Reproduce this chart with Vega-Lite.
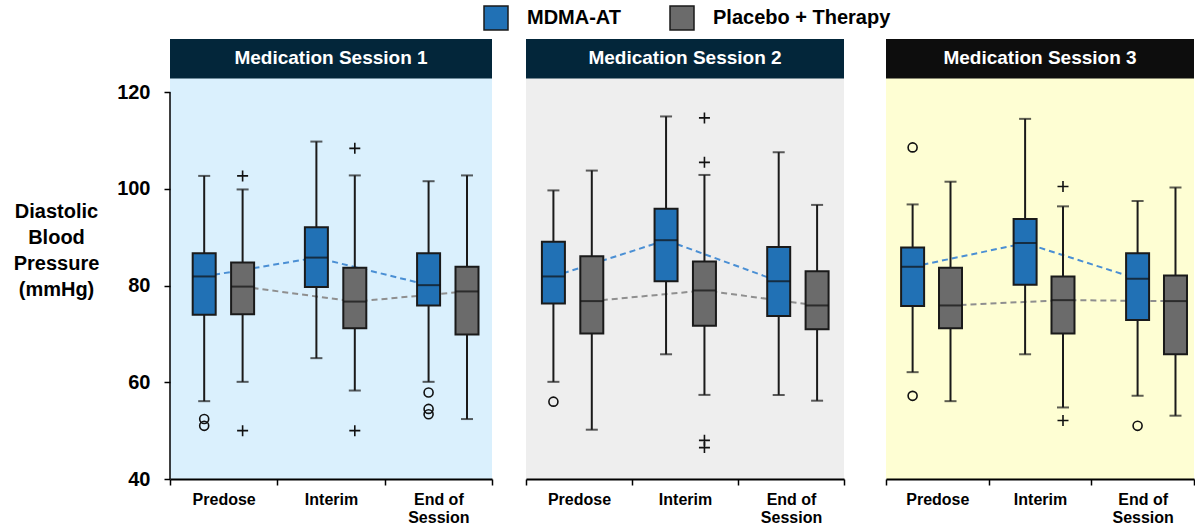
{
"$schema": "https://vega.github.io/schema/vega-lite/v6.json",
"padding": {"left": 13, "top": 5, "right": 0, "bottom": 0},
"background": "white",
"config": {"view": {"stroke": null}, "axis": {"grid": false}, "font": "Liberation Sans"},
"datasets": {
"boxes": [
{"session":1,"time":"Predose","group":"MDMA-AT","lower":56.1,"q1":74.0,"median":81.9,"q3":86.7,"upper":102.7},
{"session":1,"time":"Interim","group":"MDMA-AT","lower":65.0,"q1":79.7,"median":85.8,"q3":92.1,"upper":109.8},
{"session":1,"time":"End of Session","group":"MDMA-AT","lower":60.1,"q1":75.9,"median":80.1,"q3":86.7,"upper":101.6},
{"session":1,"time":"Predose","group":"Placebo + Therapy","lower":60.1,"q1":74.1,"median":79.8,"q3":84.8,"upper":99.9},
{"session":1,"time":"Interim","group":"Placebo + Therapy","lower":58.3,"q1":71.2,"median":76.7,"q3":83.7,"upper":102.8},
{"session":1,"time":"End of Session","group":"Placebo + Therapy","lower":52.4,"q1":69.9,"median":78.8,"q3":83.9,"upper":102.8},
{"session":2,"time":"Predose","group":"MDMA-AT","lower":60.1,"q1":76.3,"median":81.9,"q3":89.1,"upper":99.7},
{"session":2,"time":"Interim","group":"MDMA-AT","lower":65.8,"q1":80.9,"median":89.4,"q3":95.9,"upper":115.0},
{"session":2,"time":"End of Session","group":"MDMA-AT","lower":57.4,"q1":73.7,"median":80.9,"q3":88.0,"upper":107.6},
{"session":2,"time":"Predose","group":"Placebo + Therapy","lower":50.2,"q1":70.1,"median":76.8,"q3":86.1,"upper":103.8},
{"session":2,"time":"Interim","group":"Placebo + Therapy","lower":57.4,"q1":71.7,"median":79.0,"q3":85.0,"upper":102.9},
{"session":2,"time":"End of Session","group":"Placebo + Therapy","lower":56.2,"q1":71.0,"median":75.9,"q3":83.0,"upper":96.7},
{"session":3,"time":"Predose","group":"MDMA-AT","lower":62.1,"q1":75.8,"median":83.9,"q3":87.9,"upper":96.8},
{"session":3,"time":"Interim","group":"MDMA-AT","lower":65.8,"q1":80.2,"median":88.8,"q3":93.8,"upper":114.5},
{"session":3,"time":"End of Session","group":"MDMA-AT","lower":57.2,"q1":72.9,"median":81.4,"q3":86.7,"upper":97.5},
{"session":3,"time":"Predose","group":"Placebo + Therapy","lower":56.1,"q1":71.2,"median":75.9,"q3":83.7,"upper":101.5},
{"session":3,"time":"Interim","group":"Placebo + Therapy","lower":54.8,"q1":70.1,"median":77.0,"q3":81.9,"upper":96.4},
{"session":3,"time":"End of Session","group":"Placebo + Therapy","lower":53.1,"q1":65.8,"median":76.8,"q3":82.1,"upper":100.3}
],
"outliers": [
{"session":1,"time":"Predose","group":"MDMA-AT","value":52.4,"kind":"circle"},
{"session":1,"time":"Predose","group":"MDMA-AT","value":51.0,"kind":"circle"},
{"session":1,"time":"Predose","group":"Placebo + Therapy","value":102.7,"kind":"plus"},
{"session":1,"time":"Predose","group":"Placebo + Therapy","value":50.0,"kind":"plus"},
{"session":1,"time":"Interim","group":"Placebo + Therapy","value":108.4,"kind":"plus"},
{"session":1,"time":"Interim","group":"Placebo + Therapy","value":50.0,"kind":"plus"},
{"session":1,"time":"End of Session","group":"MDMA-AT","value":57.9,"kind":"circle"},
{"session":1,"time":"End of Session","group":"MDMA-AT","value":54.5,"kind":"circle"},
{"session":1,"time":"End of Session","group":"MDMA-AT","value":53.4,"kind":"circle"},
{"session":2,"time":"Predose","group":"MDMA-AT","value":56.0,"kind":"circle"},
{"session":2,"time":"Interim","group":"Placebo + Therapy","value":114.7,"kind":"plus"},
{"session":2,"time":"Interim","group":"Placebo + Therapy","value":105.5,"kind":"plus"},
{"session":2,"time":"Interim","group":"Placebo + Therapy","value":48.0,"kind":"plus"},
{"session":2,"time":"Interim","group":"Placebo + Therapy","value":46.5,"kind":"plus"},
{"session":3,"time":"Predose","group":"MDMA-AT","value":108.6,"kind":"circle"},
{"session":3,"time":"Predose","group":"MDMA-AT","value":57.2,"kind":"circle"},
{"session":3,"time":"Interim","group":"Placebo + Therapy","value":100.5,"kind":"plus"},
{"session":3,"time":"Interim","group":"Placebo + Therapy","value":52.1,"kind":"plus"},
{"session":3,"time":"End of Session","group":"MDMA-AT","value":51.0,"kind":"circle"}
]
},
"spacing": 40,
"resolve": {"scale": {"xOffset": "independent"}},
"hconcat": [
{"spacing": 32, "resolve": {"scale": {"xOffset": "independent"}},
 "hconcat": [
  {"width": 322, "height": 440, "view": {"fill": "#daf0fd", "stroke": null},
   "data": {"name": "boxes"},
   "transform": [{"filter": "datum.session == 1"}],
   "resolve": {"scale": {"x": "independent", "xOffset": "independent"}, "axis": {"x": "independent"}},
   "layer": [
    {"encoding": {
      "x": {"field": "time", "type": "nominal", "sort": ["Predose", "Interim", "End of Session"], "scale": {"type": "band", "paddingInner": 0.13, "paddingOuter": 0, "round": false}, "axis": null},
      "xOffset": {"field": "group", "type": "nominal", "sort": ["MDMA-AT", "Placebo + Therapy"], "scale": {"type": "band", "paddingInner": 0.401, "paddingOuter": 0.471, "align": 0.627, "round": false}}
     },
     "layer": [
      {"mark": {"type": "line", "strokeDash": [6, 4], "strokeWidth": 2}, "encoding": {"y": {"field": "median", "type": "quantitative", "scale": {"domain": [40, 131.02], "nice": false, "zero": false}, "axis": {"values": [40, 60, 80, 100, 120], "domain": false, "title": ["Diastolic", "Blood", "Pressure", "(mmHg)"], "titleAngle": 0, "titleAlign": "center", "titleBaseline": "middle", "titleX": -114, "titleY": 172, "titleFontSize": 20, "titleFont": "Liberation Sans", "titleFontWeight": "bold", "titleLineHeight": 26, "titleColor": "#000000", "labelFontSize": 20, "labelFont": "Liberation Sans", "labelFontWeight": "bold", "labelColor": "#000000", "labelPadding": 14, "tickSize": 6, "tickColor": "#000000", "tickWidth": 1.5, "grid": false}}, "stroke": {"field": "group", "type": "nominal", "scale": {"domain": ["Placebo + Therapy", "MDMA-AT"], "range": ["#8f8f8f", "#4a8fd4"]}, "legend": null}, "order": {"value": null}}},
      {"mark": {"type": "rule", "color": "#1a1a1a", "strokeWidth": 2}, "encoding": {"y": {"field": "lower", "type": "quantitative"}, "y2": {"field": "upper"}}},
      {"mark": {"type": "tick", "orient": "horizontal", "size": 12, "thickness": 2, "color": "#1a1a1a"}, "encoding": {"y": {"field": "lower", "type": "quantitative"}}},
      {"mark": {"type": "tick", "orient": "horizontal", "size": 12, "thickness": 2, "color": "#1a1a1a"}, "encoding": {"y": {"field": "upper", "type": "quantitative"}}},
      {"mark": {"type": "bar", "stroke": "#1a1a1a", "strokeWidth": 2}, "encoding": {"y": {"field": "q1", "type": "quantitative"}, "y2": {"field": "q3"}, "fill": {"field": "group", "type": "nominal", "sort": ["MDMA-AT", "Placebo + Therapy"], "scale": {"domain": ["MDMA-AT", "Placebo + Therapy"], "range": ["#2171b5", "#6b6b6b"]}, "legend": {"orient": "none", "legendX": 313, "legendY": -34, "direction": "horizontal", "title": null, "symbolType": "square", "symbolSize": 576, "symbolStrokeColor": "#222222", "symbolStrokeWidth": 1.5, "symbolOpacity": 1, "labelFontSize": 20, "labelFont": "Liberation Sans", "labelFontWeight": "bold", "labelColor": "#000000", "labelOffset": 18, "labelLimit": 400, "columnPadding": 45, "padding": 0}}}},
      {"mark": {"type": "tick", "orient": "horizontal", "size": 23, "thickness": 2, "color": "#111111"}, "encoding": {"y": {"field": "median", "type": "quantitative"}}},
      {"data": {"name": "outliers"}, "transform": [{"filter": "datum.session == 1"}],
       "mark": {"type": "point", "filled": false, "stroke": "#111111", "strokeWidth": 1.6, "size": 121, "opacity": 1},
       "encoding": {"y": {"field": "value", "type": "quantitative"}, "shape": {"field": "kind", "type": "nominal", "scale": {"domain": ["circle", "plus"], "range": ["M0.82,0A0.82,0.82,0,1,1,-0.82,0A0.82,0.82,0,1,1,0.82,0Z", "M-1,0H1M0,-1V1"]}, "legend": null}}}
     ]},
    {"encoding": {"x": {"field": "time", "type": "nominal", "sort": ["Predose", "Interim", "End of Session"], "scale": {"type": "band", "paddingInner": 0, "paddingOuter": 0}, "axis": {"title": null, "labelAngle": 0, "tickBand": "extent", "labelFontSize": 16, "labelFont": "Liberation Sans", "labelFontWeight": "bold", "labelColor": "#000000", "labelPadding": 6, "labelLineHeight": 18, "labelExpr": "datum.value == 'End of Session' ? ['End of', 'Session'] : datum.value", "tickSize": 6, "tickColor": "#000000", "tickWidth": 1.5, "domainColor": "#000000", "domainWidth": 2}}},
     "layer": [
      {"mark": {"type": "tick", "opacity": 0}},
      {"data": {"values": [{"axis": "y"}]}, "mark": {"type": "rule", "color": "#000000", "strokeWidth": 1.5},
       "encoding": {"x": {"datum": "Predose", "type": "nominal", "bandPosition": 0}, "y": {"datum": 40, "type": "quantitative"}, "y2": {"datum": 120}}}
     ]},
    {"data": {"values": [{"label": "Medication Session 1"}]},
     "mark": {"type": "rect", "color": "#03263a"},
     "encoding": {"y": {"datum": 122.85, "type": "quantitative"}, "y2": {"datum": 131.02}}},
    {"data": {"values": [{"label": "Medication Session 1"}]},
     "mark": {"type": "text", "color": "#ffffff", "font": "Liberation Sans", "fontWeight": "bold", "fontSize": 19, "baseline": "middle"},
     "encoding": {"y": {"datum": 126.99, "type": "quantitative"}, "text": {"field": "label"}}}
   ]},
  {"width": 318, "height": 440, "view": {"fill": "#eeeeee", "stroke": null},
   "data": {"name": "boxes"},
   "transform": [{"filter": "datum.session == 2"}],
   "resolve": {"scale": {"x": "independent", "xOffset": "independent"}, "axis": {"x": "independent"}},
   "layer": [
    {"encoding": {
      "x": {"field": "time", "type": "nominal", "sort": ["Predose", "Interim", "End of Session"], "scale": {"type": "band", "paddingInner": 0.177, "paddingOuter": 0, "round": false}, "axis": null},
      "xOffset": {"field": "group", "type": "nominal", "sort": ["MDMA-AT", "Placebo + Therapy"], "scale": {"type": "band", "paddingInner": 0.401, "paddingOuter": 0.408, "align": 0.508, "round": false}}
     },
     "layer": [
      {"mark": {"type": "line", "strokeDash": [6, 4], "strokeWidth": 2}, "encoding": {"y": {"field": "median", "type": "quantitative", "scale": {"domain": [40, 131.02], "nice": false, "zero": false}, "axis": null}, "stroke": {"field": "group", "type": "nominal", "scale": {"domain": ["Placebo + Therapy", "MDMA-AT"], "range": ["#8f8f8f", "#4a8fd4"]}, "legend": null}, "order": {"value": null}}},
      {"mark": {"type": "rule", "color": "#1a1a1a", "strokeWidth": 2}, "encoding": {"y": {"field": "lower", "type": "quantitative", "axis": null}, "y2": {"field": "upper"}}},
      {"mark": {"type": "tick", "orient": "horizontal", "size": 12, "thickness": 2, "color": "#1a1a1a"}, "encoding": {"y": {"field": "lower", "type": "quantitative", "axis": null}}},
      {"mark": {"type": "tick", "orient": "horizontal", "size": 12, "thickness": 2, "color": "#1a1a1a"}, "encoding": {"y": {"field": "upper", "type": "quantitative", "axis": null}}},
      {"mark": {"type": "bar", "stroke": "#1a1a1a", "strokeWidth": 2}, "encoding": {"y": {"field": "q1", "type": "quantitative", "axis": null}, "y2": {"field": "q3"}, "fill": {"field": "group", "type": "nominal", "sort": ["MDMA-AT", "Placebo + Therapy"], "scale": {"domain": ["MDMA-AT", "Placebo + Therapy"], "range": ["#2171b5", "#6b6b6b"]}}}},
      {"mark": {"type": "tick", "orient": "horizontal", "size": 23, "thickness": 2, "color": "#111111"}, "encoding": {"y": {"field": "median", "type": "quantitative", "axis": null}}},
      {"data": {"name": "outliers"}, "transform": [{"filter": "datum.session == 2"}],
       "mark": {"type": "point", "filled": false, "stroke": "#111111", "strokeWidth": 1.6, "size": 121, "opacity": 1},
       "encoding": {"y": {"field": "value", "type": "quantitative", "axis": null}, "shape": {"field": "kind", "type": "nominal", "scale": {"domain": ["circle", "plus"], "range": ["M0.82,0A0.82,0.82,0,1,1,-0.82,0A0.82,0.82,0,1,1,0.82,0Z", "M-1,0H1M0,-1V1"]}, "legend": null}}}
     ]},
    {"mark": {"type": "tick", "opacity": 0},
     "encoding": {"x": {"field": "time", "type": "nominal", "sort": ["Predose", "Interim", "End of Session"], "scale": {"type": "band", "paddingInner": 0, "paddingOuter": 0}, "axis": {"title": null, "labelAngle": 0, "tickBand": "extent", "labelFontSize": 16, "labelFont": "Liberation Sans", "labelFontWeight": "bold", "labelColor": "#000000", "labelPadding": 6, "labelLineHeight": 18, "labelExpr": "datum.value == 'End of Session' ? ['End of', 'Session'] : datum.value", "tickSize": 6, "tickColor": "#000000", "tickWidth": 1.5, "domainColor": "#000000", "domainWidth": 2}}}},
    {"data": {"values": [{"label": "Medication Session 2"}]},
     "mark": {"type": "rect", "color": "#03263a"},
     "encoding": {"y": {"datum": 122.85, "type": "quantitative", "axis": null}, "y2": {"datum": 131.02}}},
    {"data": {"values": [{"label": "Medication Session 2"}]},
     "mark": {"type": "text", "color": "#ffffff", "font": "Liberation Sans", "fontWeight": "bold", "fontSize": 19, "baseline": "middle"},
     "encoding": {"y": {"datum": 126.99, "type": "quantitative", "axis": null}, "text": {"field": "label"}}}
   ]}
 ]},
{"width": 308, "height": 440, "view": {"fill": "#fefed3", "stroke": null},
 "data": {"name": "boxes"},
 "transform": [{"filter": "datum.session == 3"}],
 "resolve": {"scale": {"x": "independent", "xOffset": "independent"}, "axis": {"x": "independent"}},
 "layer": [
  {"encoding": {
    "x": {"field": "time", "type": "nominal", "sort": ["Predose", "Interim", "End of Session"], "scale": {"type": "band", "paddingInner": 0.262, "paddingOuter": 0, "round": false}, "axis": null},
    "xOffset": {"field": "group", "type": "nominal", "sort": ["MDMA-AT", "Placebo + Therapy"], "scale": {"type": "band", "paddingInner": 0.393, "paddingOuter": 0.292, "align": 0.683, "round": false}}
   },
   "layer": [
    {"mark": {"type": "line", "strokeDash": [6, 4], "strokeWidth": 2}, "encoding": {"y": {"field": "median", "type": "quantitative", "scale": {"domain": [40, 131.02], "nice": false, "zero": false}, "axis": null}, "stroke": {"field": "group", "type": "nominal", "scale": {"domain": ["Placebo + Therapy", "MDMA-AT"], "range": ["#8f8f8f", "#4a8fd4"]}, "legend": null}, "order": {"value": null}}},
    {"mark": {"type": "rule", "color": "#1a1a1a", "strokeWidth": 2}, "encoding": {"y": {"field": "lower", "type": "quantitative", "axis": null}, "y2": {"field": "upper"}}},
    {"mark": {"type": "tick", "orient": "horizontal", "size": 12, "thickness": 2, "color": "#1a1a1a"}, "encoding": {"y": {"field": "lower", "type": "quantitative", "axis": null}}},
    {"mark": {"type": "tick", "orient": "horizontal", "size": 12, "thickness": 2, "color": "#1a1a1a"}, "encoding": {"y": {"field": "upper", "type": "quantitative", "axis": null}}},
    {"mark": {"type": "bar", "stroke": "#1a1a1a", "strokeWidth": 2}, "encoding": {"y": {"field": "q1", "type": "quantitative", "axis": null}, "y2": {"field": "q3"}, "fill": {"field": "group", "type": "nominal", "sort": ["MDMA-AT", "Placebo + Therapy"], "scale": {"domain": ["MDMA-AT", "Placebo + Therapy"], "range": ["#2171b5", "#6b6b6b"]}}}},
    {"mark": {"type": "tick", "orient": "horizontal", "size": 23, "thickness": 2, "color": "#111111"}, "encoding": {"y": {"field": "median", "type": "quantitative", "axis": null}}},
    {"data": {"name": "outliers"}, "transform": [{"filter": "datum.session == 3"}],
     "mark": {"type": "point", "filled": false, "stroke": "#111111", "strokeWidth": 1.6, "size": 121, "opacity": 1},
     "encoding": {"y": {"field": "value", "type": "quantitative", "axis": null}, "shape": {"field": "kind", "type": "nominal", "scale": {"domain": ["circle", "plus"], "range": ["M0.82,0A0.82,0.82,0,1,1,-0.82,0A0.82,0.82,0,1,1,0.82,0Z", "M-1,0H1M0,-1V1"]}, "legend": null}}}
   ]},
  {"mark": {"type": "tick", "opacity": 0},
   "encoding": {"x": {"field": "time", "type": "nominal", "sort": ["Predose", "Interim", "End of Session"], "scale": {"type": "band", "paddingInner": 0, "paddingOuter": 0}, "axis": {"title": null, "labelAngle": 0, "tickBand": "extent", "labelFontSize": 16, "labelFont": "Liberation Sans", "labelFontWeight": "bold", "labelColor": "#000000", "labelPadding": 6, "labelLineHeight": 18, "labelExpr": "datum.value == 'End of Session' ? ['End of', 'Session'] : datum.value", "tickSize": 6, "tickColor": "#000000", "tickWidth": 1.5, "domainColor": "#000000", "domainWidth": 2}}}},
  {"data": {"values": [{"label": "Medication Session 3"}]},
   "mark": {"type": "rect", "color": "#0d0d0d"},
   "encoding": {"y": {"datum": 122.85, "type": "quantitative", "axis": null}, "y2": {"datum": 131.02}}},
  {"data": {"values": [{"label": "Medication Session 3"}]},
   "mark": {"type": "text", "color": "#ffffff", "font": "Liberation Sans", "fontWeight": "bold", "fontSize": 19, "baseline": "middle"},
   "encoding": {"y": {"datum": 126.99, "type": "quantitative", "axis": null}, "text": {"field": "label"}}}
 ]}
]
}
